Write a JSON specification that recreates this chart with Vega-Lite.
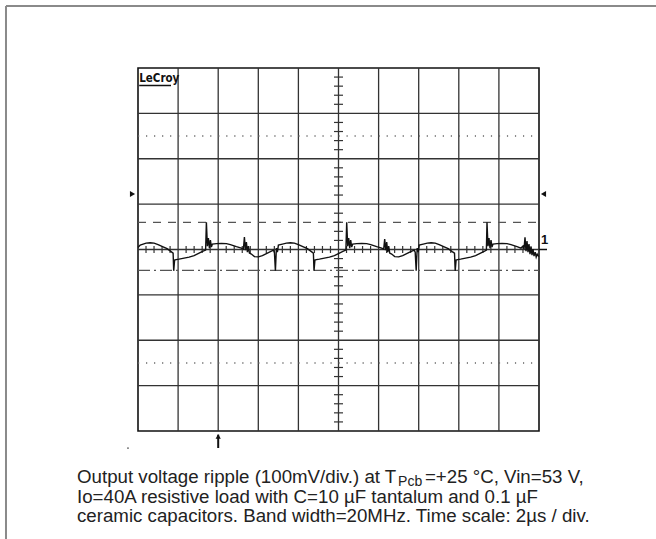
{
  "$schema": "https://vega.github.io/schema/vega-lite/v6.json",
  "width": 401,
  "height": 363,
  "autosize": {"type": "none"},
  "padding": {"left": 138, "top": 68, "right": 117, "bottom": 108},
  "background": "white",
  "config": {
    "view": {"stroke": "#111", "strokeWidth": 1.6},
    "font": "Liberation Sans"
  },
  "data": {"values": [{}]},
  "datasets": {
    "trace": [
      {"t":0,"v":4.6},{"t":0.11,"v":9.7},{"t":0.404,"v":14.1},{"t":0.603,"v":14.8},{"t":0.803,"v":14.1},{"t":1.002,"v":10.8},{"t":1.252,"v":5.9},{"t":1.451,"v":2.0},{"t":1.651,"v":-4.6},{"t":1.751,"v":-7.9},{"t":1.781,"v":-47},{"t":1.825,"v":-23.3},{"t":1.9,"v":-22.2},{"t":2.05,"v":-21.1},{"t":2.299,"v":-18.9},{"t":2.549,"v":-16.7},{"t":2.798,"v":-13.4},{"t":3.047,"v":-7.9},{"t":3.247,"v":-3.5},{"t":3.372,"v":-1.3},
      {"t":3.411,"v":60},{"t":3.461,"v":7.5},{"t":3.511,"v":25.1},{"t":3.561,"v":3.1},{"t":3.611,"v":20.7},{"t":3.661,"v":5.3},{"t":3.711,"v":11.9},{"t":3.91,"v":13.0},{"t":4.16,"v":13.4},{"t":4.409,"v":13.0},{"t":4.608,"v":10.8},{"t":4.908,"v":6.4},{"t":5.157,"v":3.1},{"t":5.257,"v":0.9},{"t":5.307,"v":27.3},{"t":5.357,"v":-1.3},{"t":5.406,"v":16.3},{"t":5.456,"v":-5.7},{"t":5.506,"v":7.5},{"t":5.556,"v":-7.9},{"t":5.656,"v":-10.1},{"t":5.805,"v":-15.6},{"t":6.005,"v":-16.3},{"t":6.204,"v":-13.4},{"t":6.404,"v":-9.0},{"t":6.603,"v":-4.6},{"t":6.753,"v":-1.3},{"t":6.803,"v":-5.7},{"t":6.853,"v":-47},{"t":6.903,"v":3.1},{"t":6.953,"v":-5.7},{"t":7.002,"v":9.7},{"t":7.202,"v":11.9},{"t":7.401,"v":14.1},{"t":7.601,"v":14.8},{"t":7.8,"v":14.1},{"t":8.0,"v":10.8},{"t":8.249,"v":5.9},{"t":8.449,"v":2.0},{"t":8.648,"v":-4.6},{"t":8.748,"v":-7.9},{"t":8.778,"v":-47},{"t":8.823,"v":-23.3},{"t":8.898,"v":-22.2},{"t":9.047,"v":-21.1},{"t":9.297,"v":-18.9},{"t":9.546,"v":-16.7},{"t":9.795,"v":-13.4},{"t":10.045,"v":-7.9},{"t":10.244,"v":-3.5},{"t":10.369,"v":-1.3},
      {"t":10.409,"v":60},{"t":10.459,"v":7.5},{"t":10.509,"v":25.1},{"t":10.559,"v":3.1},{"t":10.608,"v":20.7},{"t":10.658,"v":5.3},{"t":10.708,"v":11.9},{"t":10.908,"v":13.0},{"t":11.157,"v":13.4},{"t":11.406,"v":13.0},{"t":11.606,"v":10.8},{"t":11.905,"v":6.4},{"t":12.155,"v":3.1},{"t":12.254,"v":0.9},{"t":12.304,"v":23},{"t":12.354,"v":-1.3},{"t":12.404,"v":16.3},{"t":12.454,"v":-5.7},{"t":12.504,"v":7.5},{"t":12.554,"v":-7.9},{"t":12.653,"v":-10.1},{"t":12.803,"v":-15.6},{"t":13.002,"v":-16.3},{"t":13.202,"v":-13.4},{"t":13.401,"v":-9.0},{"t":13.601,"v":-4.6},{"t":13.776,"v":-1.3},{"t":13.825,"v":-5.7},{"t":13.875,"v":-47},{"t":13.925,"v":3.1},{"t":13.975,"v":-5.7},{"t":14.025,"v":9.7},{"t":14.224,"v":11.9},{"t":14.424,"v":14.1},{"t":14.623,"v":14.8},{"t":14.823,"v":14.1},{"t":15.022,"v":10.8},{"t":15.272,"v":5.9},{"t":15.471,"v":2.0},{"t":15.671,"v":-4.6},{"t":15.786,"v":-7.9},{"t":15.82,"v":-47},{"t":15.865,"v":-23.3},{"t":15.94,"v":-22.2},{"t":16.09,"v":-21.1},{"t":16.339,"v":-18.9},{"t":16.588,"v":-16.7},{"t":16.838,"v":-13.4},{"t":17.087,"v":-7.9},{"t":17.287,"v":-3.5},{"t":17.376,"v":-1.3},
      {"t":17.406,"v":60},{"t":17.456,"v":7.5},{"t":17.506,"v":25.1},{"t":17.556,"v":3.1},{"t":17.606,"v":20.7},{"t":17.656,"v":5.3},{"t":17.706,"v":11.9},{"t":17.905,"v":13.0},{"t":18.155,"v":13.4},{"t":18.404,"v":13.0},{"t":18.603,"v":10.8},{"t":18.903,"v":6.4},{"t":19.102,"v":3.1},{"t":19.202,"v":7.5},{"t":19.252,"v":0.9},{"t":19.302,"v":26.7},{"t":19.352,"v":-3.5},{"t":19.401,"v":18.5},{"t":19.451,"v":-5.7},{"t":19.501,"v":11.9},{"t":19.551,"v":-10.1},{"t":19.601,"v":5.3},{"t":19.651,"v":-12.3},{"t":19.701,"v":0.9},{"t":19.751,"v":-14.5},{"t":19.81,"v":-5.7},{"t":19.86,"v":-16.7},{"t":19.91,"v":-10.1},{"t":19.985,"v":-15.6}
    ],
    "gridT": [{"t":2},{"t":4},{"t":6},{"t":8},{"t":10},{"t":12},{"t":14},{"t":16},{"t":18}],
    "gridV": [{"v":-300},{"v":-200},{"v":-100},{"v":0},{"v":100},{"v":200},{"v":300}],
    "tminor": [
      {"t":0.4},{"t":0.8},{"t":1.2},{"t":1.6},{"t":2.4},{"t":2.8},{"t":3.2},{"t":3.6},{"t":4.4},{"t":4.8},{"t":5.2},{"t":5.6},{"t":6.4},{"t":6.8},{"t":7.2},{"t":7.6},{"t":8.4},{"t":8.8},{"t":9.2},{"t":9.6},{"t":10.4},{"t":10.8},{"t":11.2},{"t":11.6},{"t":12.4},{"t":12.8},{"t":13.2},{"t":13.6},{"t":14.4},{"t":14.8},{"t":15.2},{"t":15.6},{"t":16.4},{"t":16.8},{"t":17.2},{"t":17.6},{"t":18.4},{"t":18.8},{"t":19.2},{"t":19.6}
    ],
    "vminor": [
      {"v":-380},{"v":-360},{"v":-340},{"v":-320},{"v":-280},{"v":-260},{"v":-240},{"v":-220},{"v":-180},{"v":-160},{"v":-140},{"v":-120},{"v":-80},{"v":-60},{"v":-40},{"v":-20},{"v":20},{"v":40},{"v":60},{"v":80},{"v":120},{"v":140},{"v":160},{"v":180},{"v":220},{"v":240},{"v":260},{"v":280},{"v":320},{"v":340},{"v":360},{"v":380}
    ],
    "dotted": [{"v":250},{"v":-250}]
  },
  "encoding": {
    "x": {"type": "quantitative", "scale": {"domain": [0, 20], "nice": false, "zero": false}, "axis": null},
    "y": {"type": "quantitative", "scale": {"domain": [-400, 400], "nice": false, "zero": false}, "axis": null}
  },
  "layer": [
    {
      "data": {"name": "gridT"},
      "mark": {"type": "rule", "color": "#333", "strokeWidth": 1.3},
      "encoding": {
        "x": {"field": "t", "type": "quantitative"},
        "y": {"datum": -400, "type": "quantitative"},
        "y2": {"datum": 400}
      }
    },
    {
      "data": {"name": "gridV"},
      "mark": {"type": "rule", "color": "#333", "strokeWidth": 1.3},
      "encoding": {
        "y": {"field": "v", "type": "quantitative"},
        "x": {"datum": 0, "type": "quantitative"},
        "x2": {"datum": 20}
      }
    },
    {
      "data": {"name": "dotted"},
      "mark": {"type": "rule", "color": "#666", "strokeWidth": 1.4, "strokeDash": [1.2, 6.82]},
      "encoding": {
        "x": {"datum": 0, "type": "quantitative"},
        "x2": {"datum": 20},
        "y": {"field": "v", "type": "quantitative"}
      }
    },
    {
      "mark": {"type": "rule", "color": "#555", "strokeWidth": 1.3, "strokeDash": [8, 7]},
      "encoding": {
        "x": {"datum": 0, "type": "quantitative"},
        "x2": {"datum": 20},
        "y": {"datum": 60, "type": "quantitative"}
      }
    },
    {
      "mark": {"type": "rule", "color": "#555", "strokeWidth": 1.3, "strokeDash": [12, 4, 2, 4]},
      "encoding": {
        "x": {"datum": 0, "type": "quantitative"},
        "x2": {"datum": 20},
        "y": {"datum": -46, "type": "quantitative"}
      }
    },
    {
      "data": {"name": "tminor"},
      "mark": {"type": "tick", "orient": "vertical", "color": "#333", "size": 7, "thickness": 1.2, "opacity": 1},
      "encoding": {
        "x": {"field": "t", "type": "quantitative"},
        "y": {"datum": 0, "type": "quantitative"}
      }
    },
    {
      "data": {"name": "vminor"},
      "mark": {"type": "tick", "orient": "horizontal", "color": "#333", "size": 9, "thickness": 1.2, "opacity": 1},
      "encoding": {
        "y": {"field": "v", "type": "quantitative"},
        "x": {"datum": 10, "type": "quantitative"}
      }
    },
    {
      "data": {"name": "trace"},
      "mark": {"type": "line", "color": "#111", "strokeWidth": 1.4, "interpolate": "linear"},
      "encoding": {
        "x": {"field": "t", "type": "quantitative"},
        "y": {"field": "v", "type": "quantitative"}
      }
    },
    {
      "mark": {"type": "point", "shape": "triangle-right", "filled": true, "color": "#111", "size": 35, "opacity": 1},
      "encoding": {
        "x": {"datum": -0.274, "type": "quantitative"},
        "y": {"datum": 122.3, "type": "quantitative"}
      }
    },
    {
      "mark": {"type": "point", "shape": "triangle-left", "filled": true, "color": "#111", "size": 35, "opacity": 1},
      "encoding": {
        "x": {"datum": 20.224, "type": "quantitative"},
        "y": {"datum": 122.3, "type": "quantitative"}
      }
    },
    {
      "mark": {"type": "rule", "color": "#111", "strokeWidth": 1.5},
      "encoding": {
        "x": {"datum": 20, "type": "quantitative"},
        "x2": {"datum": 20.4},
        "y": {"datum": 0, "type": "quantitative"}
      }
    },
    {
      "mark": {"type": "text", "text": "1", "font": "Liberation Sans", "fontWeight": "bold", "fontSize": 13, "align": "left", "baseline": "alphabetic", "color": "#111"},
      "encoding": {
        "x": {"datum": 20.1, "type": "quantitative"},
        "y": {"datum": 12, "type": "quantitative"}
      }
    },
    {
      "mark": {"type": "text", "text": "LeCroy", "font": "DejaVu Sans Condensed", "fontWeight": "bold", "fontSize": 11.5, "align": "left", "baseline": "alphabetic", "color": "#111"},
      "encoding": {
        "x": {"datum": 0.06, "type": "quantitative"},
        "y": {"datum": 370, "type": "quantitative"}
      }
    },
    {
      "mark": {"type": "rule", "color": "#111", "strokeWidth": 1.6},
      "encoding": {
        "x": {"datum": 0.06, "type": "quantitative"},
        "x2": {"datum": 1.646},
        "y": {"datum": 361.4, "type": "quantitative"}
      }
    },
    {
      "mark": {"type": "rule", "color": "#111", "strokeWidth": 2},
      "encoding": {
        "x": {"datum": 4, "type": "quantitative"},
        "y": {"datum": -408, "type": "quantitative"},
        "y2": {"datum": -437.5}
      }
    },
    {
      "mark": {"type": "point", "shape": "triangle-up", "filled": true, "color": "#111", "size": 28, "opacity": 1},
      "encoding": {
        "x": {"datum": 4, "type": "quantitative"},
        "y": {"datum": -412, "type": "quantitative"}
      }
    },
    {
      "mark": {"type": "point", "shape": "circle", "filled": true, "color": "#555", "size": 3, "opacity": 1},
      "encoding": {
        "x": {"datum": -0.499, "type": "quantitative"},
        "y": {"datum": -437.5, "type": "quantitative"}
      }
    },
    {
      "mark": {"type": "rule", "color": "#8a8a8a", "strokeWidth": 2},
      "encoding": {
        "x": {"datum": -6.584, "type": "quantitative"},
        "x2": {"datum": 25.9},
        "y": {"datum": 536.6, "type": "quantitative"}
      }
    },
    {
      "mark": {"type": "rule", "color": "#8a8a8a", "strokeWidth": 2},
      "encoding": {
        "x": {"datum": -6.584, "type": "quantitative"},
        "y": {"datum": 536.6, "type": "quantitative"},
        "y2": {"datum": -640}
      }
    },
    {
      "mark": {"type": "text", "text": "Output voltage ripple (100mV/div.) at T", "fontSize": 18.7, "align": "left", "baseline": "alphabetic", "color": "#222"},
      "encoding": {
        "x": {"datum": -3.042, "type": "quantitative"},
        "y": {"datum": -514.6, "type": "quantitative"}
      }
    },
    {
      "mark": {"type": "text", "text": "Pcb", "fontSize": 14, "align": "left", "baseline": "alphabetic", "color": "#222"},
      "encoding": {
        "x": {"datum": 12.97, "type": "quantitative"},
        "y": {"datum": -522.3, "type": "quantitative"}
      }
    },
    {
      "mark": {"type": "text", "text": "=+25 °C, Vin=53 V,", "fontSize": 18.7, "align": "left", "baseline": "alphabetic", "color": "#222"},
      "encoding": {
        "x": {"datum": 14.31, "type": "quantitative"},
        "y": {"datum": -514.6, "type": "quantitative"}
      }
    },
    {
      "mark": {"type": "text", "text": "Io=40A resistive load with C=10 µF tantalum and 0.1 µF", "fontSize": 18.7, "align": "left", "baseline": "alphabetic", "color": "#222"},
      "encoding": {
        "x": {"datum": -3.042, "type": "quantitative"},
        "y": {"datum": -557.6, "type": "quantitative"}
      }
    },
    {
      "mark": {"type": "text", "text": "ceramic capacitors. Band width=20MHz. Time scale: 2µs / div.", "fontSize": 18.7, "align": "left", "baseline": "alphabetic", "color": "#222"},
      "encoding": {
        "x": {"datum": -3.042, "type": "quantitative"},
        "y": {"datum": -600.6, "type": "quantitative"}
      }
    }
  ]
}
